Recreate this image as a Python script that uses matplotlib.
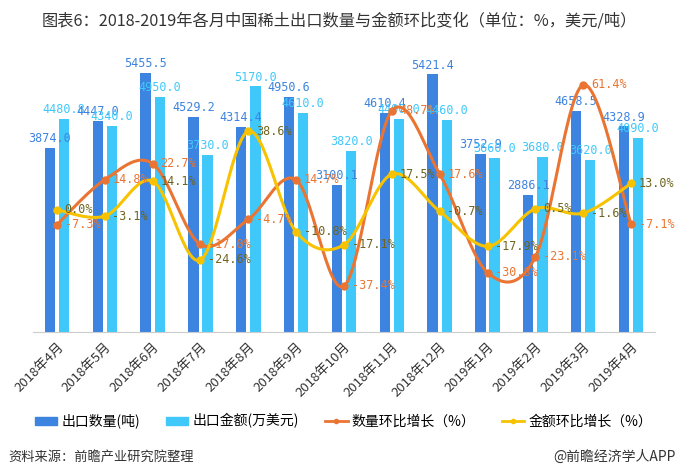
import numpy as np
import matplotlib
matplotlib.use("Agg")
import matplotlib.pyplot as plt
from matplotlib.lines import Line2D
from matplotlib.patches import Patch

plt.rcParams["font.family"] = ["Noto Sans CJK SC", "DejaVu Sans"]

months = ["2018年4月", "2018年5月", "2018年6月", "2018年7月", "2018年8月", "2018年9月",
          "2018年10月", "2018年11月", "2018年12月", "2019年1月", "2019年2月", "2019年3月",
          "2019年4月"]
qty = [3874.0, 4447.0, 5455.5, 4529.2, 4314.4, 4950.6, 3100.1, 4610.4, 5421.4,
       3752.9, 2886.1, 4658.5, 4328.9]
amount = [4480.8, 4340.0, 4950.0, 3730.0, 5170.0, 4610.0, 3820.0, 4490.0, 4460.0,
          3660.0, 3680.0, 3620.0, 4090.0]
qty_growth = [-7.3, 14.8, 22.7, -17.0, -4.7, 14.7, -37.4, 48.7, 17.6, -30.8, -23.1, 61.4, -7.1]
amt_growth = [0.0, -3.1, 14.1, -24.6, 38.6, -10.8, -17.1, 17.5, -0.7, -17.9, 0.5, -1.6, 13.0]

C_QTY = "#3d84e0"
C_AMT = "#40c8fb"
C_QG = "#ea7432"
C_AG = "#f7c300"
C_AG_TXT = "#6e6420"


def smooth(x, y, n=30):
    # catmull-rom style curve through the points (rendering only)
    x = np.asarray(x, float)
    y = np.asarray(y, float)
    px = np.concatenate([[x[0]], x, [x[-1]]])
    py = np.concatenate([[y[0]], y, [y[-1]]])
    xs, ys = [], []
    t = np.linspace(0, 1, n)
    for i in range(1, len(px) - 2):
        p0, p1, p2, p3 = py[i - 1], py[i], py[i + 1], py[i + 2]
        q0, q1, q2, q3 = px[i - 1], px[i], px[i + 1], px[i + 2]
        f = lambda a0, a1, a2, a3: 0.5 * ((2 * a1) + (-a0 + a2) * t
                                          + (2 * a0 - 5 * a1 + 4 * a2 - a3) * t ** 2
                                          + (-a0 + 3 * a1 - 3 * a2 + a3) * t ** 3)
        xs.append(f(q0, q1, q2, q3))
        ys.append(f(p0, p1, p2, p3))
    return np.concatenate(xs), np.concatenate(ys)


fig = plt.figure(figsize=(6.8, 4.75), dpi=100)
ax = fig.add_axes([33 / 680, 1 - 332 / 475, 622 / 680, 285 / 475])
x = np.arange(len(months))
w = 0.215
off = 0.148
ax.bar(x - off, qty, w, color=C_QTY, zorder=2)
ax.bar(x + off, amount, w, color=C_AMT, zorder=2)
ax.set_ylim(0, 6000)
ax.set_xlim(-0.5, len(months) - 0.5)
for i in range(len(months)):
    ax.text(x[i] - off, qty[i] + 60, f"{qty[i]:.1f}", color=C_QTY, ha="center", va="bottom",
            fontsize=8.5, family="DejaVu Sans Mono", zorder=5)
    ax.text(x[i] + off, amount[i] + 60, f"{amount[i]:.1f}", color=C_AMT, ha="center",
            va="bottom", fontsize=8.5, family="DejaVu Sans Mono", zorder=5)

for s in ["top", "right", "left"]:
    ax.spines[s].set_visible(False)
ax.spines["bottom"].set_color("#cccccc")
ax.set_yticks([])
ax.set_xticks(x)
ax.set_xticklabels(months, rotation=45, ha="right", rotation_mode="anchor",
                   fontsize=9.5, color="#333333")
ax.tick_params(axis="x", length=0, pad=6)

ax2 = ax.twinx()
ax2.set_ylim(-60, 80)
ax2.axis("off")
sx, sy = smooth(x, qty_growth)
ax2.plot(sx, sy, color=C_QG, lw=2.2, zorder=3)
ax2.plot(x, qty_growth, "o", color=C_QG, ms=5, zorder=4)
sx, sy = smooth(x, amt_growth)
ax2.plot(sx, sy, color=C_AG, lw=2.2, zorder=3)
ax2.plot(x, amt_growth, "o", color=C_AG, ms=5, zorder=4)
for i in range(len(months)):
    ax2.text(x[i] + 0.16, qty_growth[i], f"{qty_growth[i]:.1f}%", color=C_QG, ha="left",
             va="center", fontsize=8.5, family="DejaVu Sans Mono", zorder=5)
    ax2.text(x[i] + 0.16, amt_growth[i], f"{amt_growth[i]:.1f}%", color=C_AG_TXT, ha="left",
             va="center", fontsize=8.5, family="DejaVu Sans Mono", zorder=5)

fig.text(42 / 680, 1 - 21 / 475, "图表6：2018-2019年各月中国稀土出口数量与金额环比变化（单位：%，美元/吨）",
         fontsize=11.7, color="#333333", va="center", ha="left")

handles = [
    Patch(color=C_QTY),
    Patch(color=C_AMT),
    Line2D([], [], color=C_QG, lw=2, marker="o", ms=3),
    Line2D([], [], color=C_AG, lw=2, marker="o", ms=3),
]
labels = ["出口数量(吨)", "出口金额(万美元)", "数量环比增长（%）", "金额环比增长（%）"]
fig.legend(handles, labels, loc="center", bbox_to_anchor=(0.505, 1 - 421 / 475), ncol=4,
           frameon=False, fontsize=10, handlelength=1.6, handleheight=0.5,
           handletextpad=0.3, columnspacing=1.9)

fig.text(8 / 680, 1 - 457 / 475, "资料来源：前瞻产业研究院整理", fontsize=9.5, style="italic",
         color="#333333", va="center", ha="left")
fig.text(676 / 680, 1 - 457 / 475, "@前瞻经济学人APP", fontsize=10, color="#333333",
         va="center", ha="right")

fig.savefig("out.png", dpi=100)
